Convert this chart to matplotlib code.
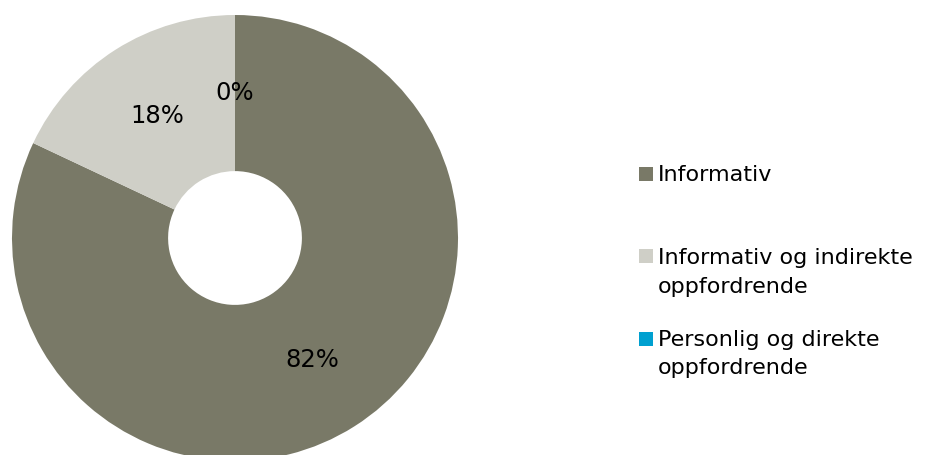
import matplotlib.pyplot as plt
from matplotlib.patches import Rectangle

# andeler per kategori (prosent)
kategorier = ["Informativ", "Informativ og indirekte\noppfordrende", "Personlig og direkte\noppfordrende"]
andeler = [82, 18, 0]
farger = ["#797967", "#cfcfc7", "#00a0d0"]

W, H = 939, 455
fig = plt.figure(figsize=(W / 100, H / 100), dpi=100)

# smultring: sentrum (235, 238) px, radius 223 px
cx, cy, r = 235, 238, 223
ax = fig.add_axes([(cx - r) / W, (H - cy - r) / H, 2 * r / W, 2 * r / H])
ax.pie(andeler, colors=farger, startangle=90, counterclock=False, radius=1,
       wedgeprops=dict(width=0.70, linewidth=0),
       autopct='%.0f%%', pctdistance=0.65,
       textprops=dict(fontsize=17.5, color='black'))
ax.set_xlim(-1, 1)
ax.set_ylim(-1, 1)
ax.set_aspect('equal')
ax.axis('off')

# forklaring tegnet for hand: firkant + tekstlinjer
def px(x, y):
    return x / W, (H - y) / H

firkant_topp = [167, 249, 332]
grunnlinjer = [[181], [264, 293], [346, 374]]
for navn, farge, topp, linjer in zip(kategorier, farger, firkant_topp, grunnlinjer):
    x0, y0 = px(639, topp + 14)
    fig.patches.append(Rectangle((x0, y0), 14 / W, 14 / H, transform=fig.transFigure,
                                 facecolor=farge, edgecolor='none'))
    for tekst, gl in zip(navn.split("\n"), linjer):
        fig.text(*px(658, gl), tekst, fontsize=16, va='baseline', ha='left')

fig.savefig("out.png", dpi=100)
